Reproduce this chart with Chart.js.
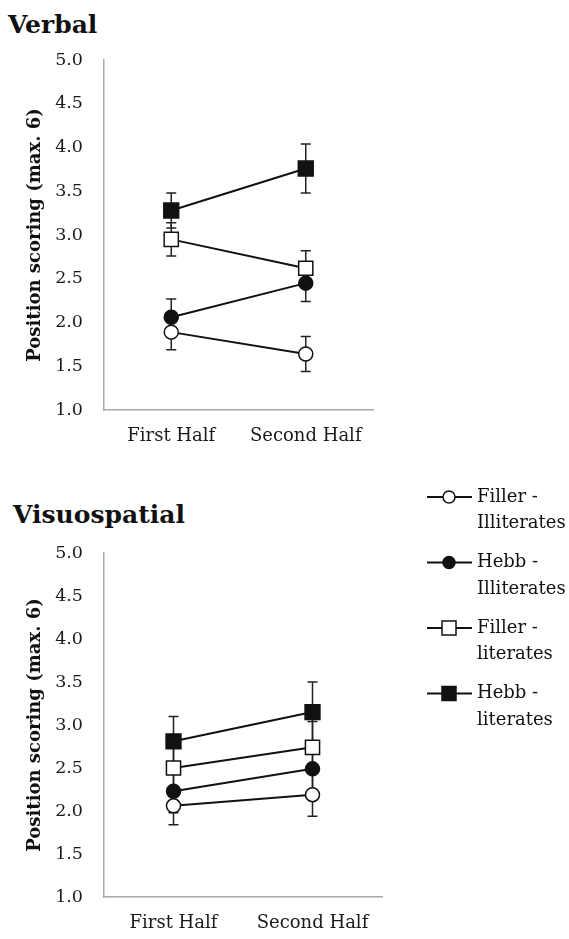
<!DOCTYPE html>
<html>
<head>
<meta charset="utf-8">
<script src="https://cdn.jsdelivr.net/npm/chart.js@4.4.1/dist/chart.umd.min.js"></script>
<style>
  body { margin: 0; background: #fff; }
  #wrap { position: relative; width: 569px; height: 939px; }
  .ttl { position: absolute; font: bold 25px "DejaVu Serif", serif; line-height: 25px; color: #111; }
  .box { position: absolute; left: 0; width: 569px; }
</style>
</head>
<body>
<div id="wrap">
  <div class="ttl" style="left:8px; top:12px;">Verbal</div>
  <div class="box" style="top:0; height:460px;"><canvas id="verbal"></canvas></div>
  <div class="ttl" style="left:13px; top:502px;">Visuospatial</div>
  <div class="box" style="top:470px; height:469px;"><canvas id="visuo"></canvas></div>
</div>
<script>
// データ
const categories = ['First Half', 'Second Half'];
const yMin = 1.0, yMax = 5.0, yStep = 0.5;
const seriesNames = [['Filler -', 'Illiterates'], ['Hebb -', 'Illiterates'], ['Filler -', 'literates'], ['Hebb -', 'literates']];

// Verbal
const verbalFillerIll = [1.89, 1.64];
const verbalFillerIllErr = [0.20, 0.20];
const verbalHebbIll = [2.06, 2.45];
const verbalHebbIllErr = [0.21, 0.21];
const verbalFillerLit = [2.95, 2.62];
const verbalFillerLitErr = [0.19, 0.20];
const verbalHebbLit = [3.28, 3.76];
const verbalHebbLitErr = [0.20, 0.28];

// Visuospatial
const visuoFillerIll = [2.06, 2.19];
const visuoFillerIllErr = [0.22, 0.25];
const visuoHebbIll = [2.23, 2.49];
const visuoHebbIllErr = [0.25, 0.28];
const visuoFillerLit = [2.50, 2.74];
const visuoFillerLitErr = [0.28, 0.30];
const visuoHebbLit = [2.81, 3.15];
const visuoHebbLitErr = [0.29, 0.35];

// マーカーの見た目
const markerStyles = [
    { pointStyle: 'circle', radius: 7, fill: '#fff' },
    { pointStyle: 'circle', radius: 7, fill: '#111' },
    { pointStyle: 'rect', radius: 10, fill: '#fff' },
    { pointStyle: 'rect', radius: 10.5, fill: '#111' }
];

function makeDatasets(values, errors) {
    return values.map((v, i) => ({
        label: seriesNames[i].join(' '),
        data: v,
        errors: errors[i],
        borderColor: '#111',
        borderWidth: 2,
        pointStyle: markerStyles[i].pointStyle,
        pointRadius: markerStyles[i].radius,
        pointBackgroundColor: markerStyles[i].fill,
        pointBorderColor: '#111',
        pointBorderWidth: 1.5,
        tension: 0
    }));
}

// エラーバー
const errorBars = {
    id: 'errorBars',
    beforeDatasetsDraw(chart) {
        const { ctx, scales: { x, y } } = chart;
        ctx.save();
        ctx.strokeStyle = '#222';
        ctx.lineWidth = 1.5;
        chart.data.datasets.forEach(ds => {
            ds.data.forEach((v, i) => {
                const e = ds.errors[i];
                const px = x.getPixelForValue(i);
                const top = y.getPixelForValue(v + e);
                const bot = y.getPixelForValue(v - e);
                ctx.beginPath();
                ctx.moveTo(px, top); ctx.lineTo(px, bot);
                ctx.moveTo(px - 5, top); ctx.lineTo(px + 5, top);
                ctx.moveTo(px - 5, bot); ctx.lineTo(px + 5, bot);
                ctx.stroke();
            });
        });
        ctx.restore();
    }
};

// 凡例（右側、2行ラベル）
const sideLegend = {
    id: 'sideLegend',
    afterDraw(chart) {
        const { ctx } = chart;
        ctx.save();
        ctx.font = '18px "DejaVu Serif", serif';
        ctx.fillStyle = '#111';
        ctx.textBaseline = 'middle';
        ctx.textAlign = 'left';
        seriesNames.forEach((lines, i) => {
            const yc = 27 + i * 65.5;
            const ms = markerStyles[i];
            ctx.strokeStyle = '#111';
            ctx.lineWidth = 2;
            ctx.beginPath();
            ctx.moveTo(427, yc); ctx.lineTo(472, yc);
            ctx.stroke();
            ctx.fillStyle = ms.fill;
            ctx.lineWidth = 1.5;
            ctx.beginPath();
            if (ms.pointStyle === 'circle') {
                ctx.arc(449, yc, 6, 0, Math.PI * 2);
            } else {
                ctx.rect(442, yc - 7, 14, 14);
            }
            ctx.fill();
            ctx.stroke();
            ctx.fillStyle = '#111';
            lines.forEach((t, k) => ctx.fillText(t, 477, yc + k * 26.5));
        });
        ctx.restore();
    }
};

function makeConfig(datasets, padding, withLegend) {
    return {
        type: 'line',
        data: { labels: categories, datasets },
        options: {
            responsive: true,
            maintainAspectRatio: false,
            animation: false,
            layout: { padding },
            plugins: {
                legend: { display: false },
                tooltip: { enabled: false }
            },
            scales: {
                x: {
                    offset: true,
                    grid: { display: false, drawTicks: false },
                    border: { display: true, color: '#a8a8a8', width: 1.5 },
                    ticks: { color: '#1a1a1a', padding: 16, font: { family: '"DejaVu Serif", serif', size: 18 } },
                    afterFit(s) { s.height = 40; }
                },
                y: {
                    min: yMin,
                    max: yMax,
                    grid: { display: false, drawTicks: false },
                    border: { display: true, color: '#a8a8a8', width: 1.5 },
                    ticks: {
                        stepSize: yStep,
                        color: '#1a1a1a',
                        padding: 21,
                        font: { family: '"DejaVu Serif", serif', size: 17.5 },
                        callback: v => v.toFixed(1)
                    },
                    title: {
                        display: true,
                        text: 'Position scoring (max. 6)',
                        color: '#111',
                        padding: { top: 25, bottom: 0 },
                        font: { family: '"DejaVu Serif", serif', size: 18, weight: 'bold' }
                    },
                    afterFit(s) { s.width = 104; }
                }
            }
        },
        plugins: withLegend ? [errorBars, sideLegend] : [errorBars]
    };
}

new Chart(document.getElementById('verbal'), makeConfig(
    makeDatasets([verbalFillerIll, verbalHebbIll, verbalFillerLit, verbalHebbLit],
                 [verbalFillerIllErr, verbalHebbIllErr, verbalFillerLitErr, verbalHebbLitErr]),
    { top: 60, right: 196, bottom: 10, left: 0 }, false));

new Chart(document.getElementById('visuo'), makeConfig(
    makeDatasets([visuoFillerIll, visuoHebbIll, visuoFillerLit, visuoHebbLit],
                 [visuoFillerIllErr, visuoHebbIllErr, visuoFillerLitErr, visuoHebbLitErr]),
    { top: 83, right: 187, bottom: 2, left: 0 }, true));
</script>
</body>
</html>
